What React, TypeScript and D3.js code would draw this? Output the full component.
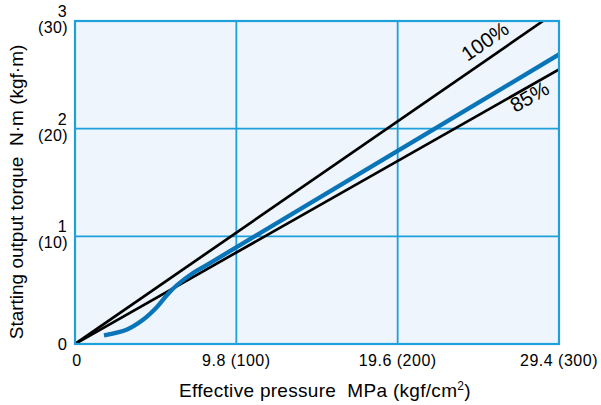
import React from "react";
import * as d3 from "d3";

const xTicks = [0, 9.8, 19.6, 29.4];
const xTickLabels = ["0", "9.8 (100)", "19.6 (200)", "29.4 (300)"];
const yTicks = [0, 1, 2, 3];
const yTickLabels = ["0", "1", "2", "3"];
const yTickSubLabels = ["", "(10)", "(20)", "(30)"];

const line100P = [0, 28.43];
const line100T = [0, 3.0];
const line85P = [0, 29.4];
const line85T = [0, 2.55];
const actualP = [1.76, 3.16, 4.13, 4.98, 5.59, 6.2, 7.17, 8.2, 29.4];
const actualT = [0.08, 0.135, 0.225, 0.344, 0.455, 0.548, 0.66, 0.752, 2.69];

const W = 601, H = 405;
const L = 75, R = 559, T = 21, B = 344;
const GRID = "#1ea0da";
const FONT = "Liberation Sans, Arial, Helvetica, sans-serif";

export default function App() {
  const x = d3.scaleLinear().domain([0, 29.4]).range([L, R]);
  const y = d3.scaleLinear().domain([0, 3]).range([B, T]);
  const line = d3.line<[number, number]>().x((d) => x(d[0])).y((d) => y(d[1]));
  const curve = d3
    .line<[number, number]>()
    .x((d) => x(d[0]))
    .y((d) => y(d[1]))
    .curve(d3.curveCatmullRom.alpha(0.5));
  const zip = (a: number[], b: number[]) => a.map((v, i) => [v, b[i]] as [number, number]);

  const a100 = Math.atan2(y(line100T[1]) - y(0), x(line100P[1]) - x(0)) * 180 / Math.PI;
  const a85 = Math.atan2(y(line85T[1]) - y(0), x(line85P[1]) - x(0)) * 180 / Math.PI;

  return (
    <svg width={W} height={H} style={{ position: "absolute", left: 0, top: 0 }} fontFamily={FONT}>
      <rect x={0} y={0} width={W} height={H} fill="#fff" />
      <rect x={L} y={T} width={R - L} height={B - T} fill="#eef5fc" />
      {xTicks.slice(1, -1).map((v) => (
        <line key={"gx" + v} x1={x(v)} x2={x(v)} y1={T} y2={B} stroke={GRID} strokeWidth={1.8} />
      ))}
      {yTicks.slice(1, -1).map((v) => (
        <line key={"gy" + v} x1={L} x2={R} y1={y(v)} y2={y(v)} stroke={GRID} strokeWidth={1.8} />
      ))}
      <defs>
        <clipPath id="plot">
          <rect x={L} y={T} width={R - L} height={B - T} />
        </clipPath>
      </defs>
      <g clipPath="url(#plot)" fill="none">
        <path d={line(zip(line100P, line100T)) || ""} stroke="#000" strokeWidth={2.7} />
        <path d={line(zip(line85P, line85T)) || ""} stroke="#000" strokeWidth={2.7} />
        <path d={curve(zip(actualP, actualT)) || ""} stroke="#0a74b8" strokeWidth={4.3} strokeLinecap="butt" />
      </g>
      <rect x={L} y={T} width={R - L} height={B - T} fill="none" stroke={GRID} strokeWidth={2.2} />

      {yTicks.map((v, i) =>
        v === 0 ? (
          <text key={"yl" + v} x={67} y={y(v) + 6} textAnchor="end" fontSize={16.5}>
            {yTickLabels[i]}
          </text>
        ) : (
          <g key={"yl" + v} fontSize={16} letterSpacing={0.4}>
            <text x={67} y={y(v) - 4} textAnchor="end">
              {yTickLabels[i]}
            </text>
            <text x={68} y={y(v) + 12} textAnchor="end">
              {yTickSubLabels[i]}
            </text>
          </g>
        )
      )}
      {xTicks.map((v, i) => (
        <text
          key={"xl" + v}
          x={i === 0 ? x(v) + 2 : x(v)}
          y={366}
          textAnchor="middle"
          fontSize={16}
          letterSpacing={0.5}
        >
          {xTickLabels[i]}
        </text>
      ))}
      <text x={325} y={397} textAnchor="middle" fontSize={19} letterSpacing={0.3} xmlSpace="preserve">
        {"Effective pressure  MPa (kgf/cm"}
        <tspan fontSize={12} dy={-7}>2</tspan>
        <tspan dy={7}>)</tspan>
      </text>
      <text
        transform={`translate(23, 192) rotate(-90)`}
        textAnchor="middle"
        fontSize={19}
        xmlSpace="preserve"
      >
        {"Starting output torque  N·m (kgf·m)"}
      </text>
      <text transform={`translate(489, 47) rotate(${a100})`} textAnchor="middle" fontSize={20.5}>
        100%
      </text>
      <text transform={`translate(533, 103) rotate(${a85})`} textAnchor="middle" fontSize={20.5}>
        85%
      </text>
    </svg>
  );
}
